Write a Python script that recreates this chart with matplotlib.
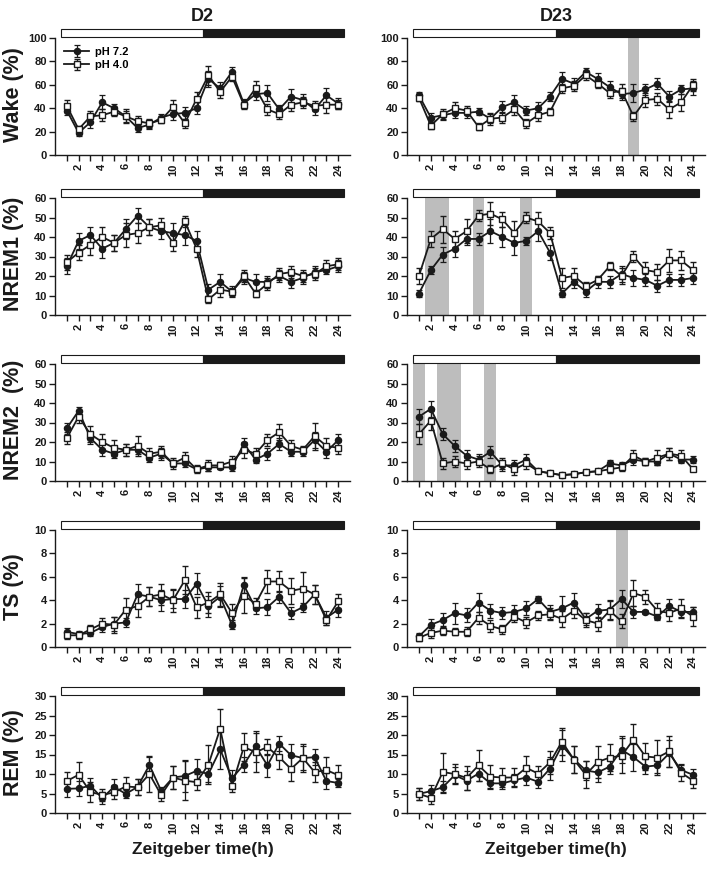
import matplotlib
matplotlib.use("Agg")
import matplotlib.pyplot as plt
import matplotlib.transforms as mtransforms
from matplotlib.patches import Rectangle
import numpy as np

plt.rcParams['font.family'] = ['Liberation Sans', 'DejaVu Sans']
plt.rcParams['font.weight'] = 'bold'

hours = list(range(1, 25))

# ---------------- D2 ----------------
d2_wake_72 = [38, 19, 28, 45, 40, 33, 23, 26, 32, 35, 36, 40, 65, 57, 71, 44, 52, 53, 39, 50, 47, 39, 51, 44]
d2_wake_72_err = [4, 3, 5, 6, 4, 5, 3, 4, 3, 5, 5, 5, 7, 5, 4, 4, 5, 7, 4, 6, 5, 5, 6, 5]
d2_wake_40 = [42, 22, 33, 34, 37, 33, 29, 27, 30, 41, 27, 48, 68, 54, 67, 43, 57, 39, 35, 43, 45, 42, 43, 43]
d2_wake_40_err = [5, 3, 5, 5, 4, 6, 4, 4, 3, 6, 4, 6, 8, 5, 4, 4, 6, 5, 4, 5, 5, 4, 7, 4]

d2_nrem1_72 = [25, 38, 41, 34, 37, 44, 51, 45, 43, 42, 41, 38, 13, 17, 12, 19, 17, 17, 20, 17, 19, 22, 23, 25]
d2_nrem1_72_err = [4, 4, 4, 5, 4, 5, 4, 4, 4, 5, 5, 5, 3, 4, 3, 3, 4, 3, 3, 3, 3, 3, 2, 3]
d2_nrem1_40 = [27, 32, 36, 40, 37, 41, 42, 45, 46, 37, 48, 34, 8, 13, 12, 20, 11, 16, 21, 22, 20, 21, 25, 26]
d2_nrem1_40_err = [4, 4, 5, 5, 4, 6, 5, 4, 4, 4, 3, 4, 2, 4, 2, 3, 2, 3, 3, 3, 3, 3, 3, 3]

d2_nrem2_72 = [27, 36, 22, 16, 14, 16, 16, 12, 14, 9, 9, 6, 7, 7, 7, 19, 11, 14, 19, 15, 15, 21, 15, 21]
d2_nrem2_72_err = [3, 2, 3, 3, 2, 3, 2, 2, 3, 2, 2, 1, 2, 1, 2, 3, 2, 3, 3, 2, 2, 4, 3, 3]
d2_nrem2_40 = [22, 33, 24, 20, 17, 16, 18, 14, 15, 9, 12, 6, 8, 8, 10, 16, 14, 21, 25, 18, 16, 23, 18, 17]
d2_nrem2_40_err = [3, 3, 4, 4, 4, 3, 5, 3, 3, 3, 3, 2, 3, 2, 3, 4, 3, 3, 4, 3, 2, 7, 4, 3]

d2_ts_72 = [1.3, 1.1, 1.2, 1.7, 2.0, 2.1, 4.5, 4.3, 4.0, 4.1, 4.1, 5.4, 3.5, 4.3, 1.9, 5.3, 3.3, 3.4, 4.3, 2.9, 3.4, 4.5, 2.5, 3.2]
d2_ts_72_err = [0.3, 0.3, 0.3, 0.4, 0.6, 0.4, 0.9, 0.8, 0.9, 0.8, 0.8, 0.9, 0.9, 0.9, 0.4, 0.7, 0.5, 0.7, 0.5, 0.5, 0.4, 0.8, 0.6, 0.6]
d2_ts_40 = [1.0, 1.0, 1.5, 2.0, 1.9, 3.2, 3.5, 4.3, 4.5, 4.0, 5.7, 3.4, 3.8, 4.5, 2.9, 4.4, 3.7, 5.6, 5.6, 4.8, 5.0, 4.5, 2.3, 3.9]
d2_ts_40_err = [0.3, 0.3, 0.4, 0.5, 0.7, 1.0, 0.9, 0.8, 0.9, 1.0, 1.2, 0.9, 0.9, 1.0, 0.8, 1.5, 0.5, 1.0, 0.9, 1.1, 1.4, 0.8, 0.4, 0.6]

d2_rem_72 = [6.2, 6.3, 7.0, 3.8, 6.7, 4.9, 6.7, 12.3, 5.7, 9.1, 9.5, 10.8, 10.0, 16.3, 8.9, 12.4, 17.1, 12.2, 17.8, 14.8, 14.1, 14.3, 8.2, 7.7]
d2_rem_72_err = [2, 2, 2, 1.5, 2, 1, 2, 2, 1, 3, 4, 3, 2, 5, 2, 2, 4, 3, 2, 3, 3, 2, 2, 1]
d2_rem_40 = [8.2, 9.8, 5.4, 4.6, 5.3, 6.8, 6.6, 10.0, 4.6, 9.1, 8.3, 7.9, 12.4, 21.6, 7.0, 16.9, 15.6, 16.9, 14.3, 11.3, 14.1, 10.5, 11.0, 9.7]
d2_rem_40_err = [2.3, 3.3, 2.5, 1.5, 1.8, 2.5, 2, 4.5, 1.5, 3, 5, 2, 5, 5, 1.5, 3.5, 5, 2, 3, 3, 3.5, 2.5, 3.3, 2.5]

# ---------------- D23 ----------------
d23_wake_72 = [51, 32, 34, 36, 36, 37, 31, 41, 45, 38, 40, 50, 65, 61, 71, 65, 58, 52, 53, 56, 61, 50, 56, 57]
d23_wake_72_err = [3, 4, 4, 4, 4, 3, 4, 5, 6, 4, 5, 4, 6, 5, 3, 5, 5, 5, 8, 5, 5, 5, 4, 6]
d23_wake_40 = [49, 25, 35, 40, 38, 24, 31, 32, 39, 27, 34, 37, 57, 59, 68, 61, 53, 55, 33, 47, 48, 39, 45, 60]
d23_wake_40_err = [3, 3, 4, 5, 4, 3, 5, 5, 5, 4, 5, 3, 4, 4, 4, 4, 4, 6, 4, 6, 5, 7, 7, 5]

d23_nrem1_72 = [11, 23, 31, 34, 39, 39, 43, 40, 37, 38, 43, 32, 11, 17, 12, 17, 17, 21, 19, 18, 15, 18, 18, 19]
d23_nrem1_72_err = [2, 2, 4, 4, 3, 3, 6, 5, 6, 2, 5, 4, 2, 3, 3, 3, 3, 4, 4, 3, 3, 3, 3, 3]
d23_nrem1_40 = [20, 39, 44, 39, 43, 51, 52, 49, 42, 50, 48, 42, 19, 20, 15, 18, 25, 20, 30, 23, 22, 28, 28, 23]
d23_nrem1_40_err = [4, 4, 7, 4, 6, 3, 6, 4, 6, 3, 5, 3, 5, 4, 2, 2, 2, 4, 3, 4, 4, 6, 5, 4]

d23_nrem2_72 = [33, 37, 24, 18, 13, 11, 15, 8, 8, 11, 5, 4, 3, 3.5, 4.5, 5, 9, 8, 11, 10, 10, 14, 11, 11]
d23_nrem2_72_err = [4, 4, 3, 3, 3, 3, 3, 3, 3, 3, 1, 1, 0.5, 0.5, 0.7, 0.7, 2, 2, 3, 2, 2, 3, 2, 2]
d23_nrem2_40 = [24, 31, 9, 10, 9, 10, 6, 9, 6, 9, 5, 4, 3, 3.5, 4.5, 5, 6, 7, 13, 10, 12, 14, 13, 6]
d23_nrem2_40_err = [5, 5, 3, 3, 3, 3, 2, 3, 3, 3, 1, 1, 0.5, 0.5, 0.7, 0.7, 2, 2, 3, 2, 4, 3, 3, 1]

d23_ts_72 = [0.9, 1.9, 2.3, 2.9, 2.7, 3.8, 3.1, 2.9, 3.0, 3.3, 4.1, 3.0, 3.3, 3.8, 2.4, 3.1, 3.2, 4.1, 3.0, 3.0, 2.6, 3.5, 3.0, 3.0]
d23_ts_72_err = [0.3, 0.5, 0.6, 0.9, 0.6, 0.8, 0.6, 0.5, 0.6, 0.6, 0.3, 0.6, 1.1, 0.8, 0.5, 0.6, 0.8, 0.8, 0.5, 0.2, 0.3, 0.6, 0.4, 0.4]
d23_ts_40 = [0.8, 1.2, 1.4, 1.3, 1.3, 2.5, 1.8, 1.5, 2.6, 2.1, 2.7, 2.8, 2.4, 3.1, 2.3, 2.0, 3.1, 2.2, 4.6, 4.3, 3.1, 2.9, 3.3, 2.6]
d23_ts_40_err = [0.3, 0.4, 0.4, 0.3, 0.4, 0.5, 0.5, 0.4, 0.5, 0.5, 0.4, 0.5, 0.7, 0.6, 0.6, 0.6, 0.8, 0.6, 1.1, 0.6, 0.7, 0.7, 0.8, 0.8]

d23_rem_72 = [4.9, 5.6, 6.6, 9.7, 8.3, 10.1, 7.6, 7.6, 8.4, 9.1, 8.0, 11.4, 17.3, 13.8, 10.9, 10.4, 11.9, 16.2, 14.3, 11.9, 12.2, 15.3, 11.0, 9.8]
d23_rem_72_err = [1.5, 1.5, 1.5, 2, 2.5, 2, 1.5, 1.5, 1.5, 2, 1.5, 3, 4, 3.5, 2.5, 2.5, 2, 3.5, 3.5, 2, 2, 3.5, 1.5, 1.5]
d23_rem_40 = [4.9, 3.9, 10.5, 10.0, 9.0, 12.2, 9.3, 9.1, 9.1, 11.6, 10.1, 13.0, 18.3, 13.7, 9.8, 13.1, 14.2, 14.7, 18.8, 14.5, 14.2, 15.8, 10.3, 8.3]
d23_rem_40_err = [1.5, 1.5, 5, 2.5, 3, 4, 3, 2.5, 2.5, 3, 2, 3, 3.5, 3.5, 3.5, 4, 3.5, 4.5, 4, 3.5, 4.5, 4, 2, 2]

# shaded (significant) hour windows for D23 panels: (start, end)
d23_wake_shade = [(18.5, 19.5)]
d23_nrem1_shade = [(1.5, 3.5), (5.5, 6.5), (9.5, 10.5)]
d23_nrem2_shade = [(0.5, 1.5), (2.5, 4.5), (6.5, 7.5)]
d23_ts_shade = [(17.5, 18.5)]
d23_rem_shade = []

row_labels = ["Wake (%)", "NREM1 (%)", "NREM2  (%)", "TS (%)", "REM (%)"]
row_ylims = [100, 60, 60, 10, 30]
row_ysteps = [20, 10, 10, 2, 5]
col_titles = ["D2", "D23"]
legend_labels = ["pH 7.2", "pH 4.0"]
light_phase = (0.5, 12.5)
dark_phase = (12.5, 24.5)
x_tick_labels = [str(h) if h % 2 == 0 else "" for h in hours]

d2_rows = [
    (d2_wake_72, d2_wake_72_err, d2_wake_40, d2_wake_40_err, []),
    (d2_nrem1_72, d2_nrem1_72_err, d2_nrem1_40, d2_nrem1_40_err, []),
    (d2_nrem2_72, d2_nrem2_72_err, d2_nrem2_40, d2_nrem2_40_err, []),
    (d2_ts_72, d2_ts_72_err, d2_ts_40, d2_ts_40_err, []),
    (d2_rem_72, d2_rem_72_err, d2_rem_40, d2_rem_40_err, []),
]
d23_rows = [
    (d23_wake_72, d23_wake_72_err, d23_wake_40, d23_wake_40_err, d23_wake_shade),
    (d23_nrem1_72, d23_nrem1_72_err, d23_nrem1_40, d23_nrem1_40_err, d23_nrem1_shade),
    (d23_nrem2_72, d23_nrem2_72_err, d23_nrem2_40, d23_nrem2_40_err, d23_nrem2_shade),
    (d23_ts_72, d23_ts_72_err, d23_ts_40, d23_ts_40_err, d23_ts_shade),
    (d23_rem_72, d23_rem_72_err, d23_rem_40, d23_rem_40_err, d23_rem_shade),
]

W, H = 712, 869
fig = plt.figure(figsize=(W / 100, H / 100), dpi=100)

col_lefts = [55, 407]
col_widths = [295, 298]
row_bottoms = [155, 315, 481, 647, 813]
row_h = 117

ink = '#1a1a1a'

for c, rows in enumerate([d2_rows, d23_rows]):
    for r, (y72, e72, y40, e40, shades) in enumerate(rows):
        left = col_lefts[c] / W
        bottom = (H - row_bottoms[r]) / H
        ax = fig.add_axes([left, bottom, col_widths[c] / W, row_h / H])
        ymax = row_ylims[r]
        for (s0, s1) in shades:
            ax.axvspan(s0, s1, color='#bdbdbd', lw=0, zorder=0)
        h1 = ax.errorbar(hours, y72, yerr=e72, fmt='-o', color=ink, mfc=ink, mec=ink,
                         ms=4.4, lw=1.3, elinewidth=0.9, capsize=2.5, capthick=0.9, zorder=3)
        h2 = ax.errorbar(hours, y40, yerr=e40, fmt='-s', color=ink, mfc='white', mec=ink,
                         ms=4.2, mew=1.0, lw=1.3, elinewidth=0.9, capsize=2.5, capthick=0.9, zorder=4)
        ax.set_xlim(0, 25)
        ax.set_ylim(0, ymax)
        ax.set_yticks(np.arange(0, ymax + 0.01, row_ysteps[r]))
        ax.set_xticks(hours)
        ax.set_xticklabels(x_tick_labels, rotation=90)
        for sp in ['top', 'right']:
            ax.spines[sp].set_visible(False)
        for sp in ['left', 'bottom']:
            ax.spines[sp].set_linewidth(1.0)
            ax.spines[sp].set_color(ink)
        ax.tick_params(axis='both', direction='out', length=4, width=1.0, color=ink,
                       labelsize=8, labelcolor=ink, pad=2)
        for lab in ax.get_xticklabels() + ax.get_yticklabels():
            lab.set_fontweight('bold')
        # light/dark bar
        trans = mtransforms.blended_transform_factory(ax.transData, ax.transAxes)
        ax.add_patch(Rectangle((light_phase[0], 1.012), light_phase[1] - light_phase[0], 0.063,
                               transform=trans, facecolor='white', edgecolor=ink, lw=0.8,
                               clip_on=False))
        ax.add_patch(Rectangle((dark_phase[0], 1.012), dark_phase[1] - dark_phase[0], 0.063,
                               transform=trans, facecolor=ink, edgecolor=ink, lw=0.8,
                               clip_on=False))
        if c == 0:
            ax.set_ylabel(row_labels[r], fontsize=15.5, fontweight='bold', color=ink)
            ax.yaxis.set_label_coords(-0.105, 0.52)
        if r == 0:
            ax.set_title(col_titles[c], fontsize=13, fontweight='bold', color=ink, pad=12)
            if c == 0:
                ax.legend([h1, h2], legend_labels, loc='upper left', bbox_to_anchor=(0.0, 1.0),
                          frameon=False, handlelength=2.3, handletextpad=0.5,
                          labelspacing=0.3, borderpad=0.3, prop={'weight': 'bold', 'size': 8})
        if r == 4:
            ax.set_xlabel("Zeitgeber time(h)", fontsize=12.5, fontweight='bold', color=ink,
                          labelpad=6)

fig.savefig("out.png", dpi=100, facecolor='white')
